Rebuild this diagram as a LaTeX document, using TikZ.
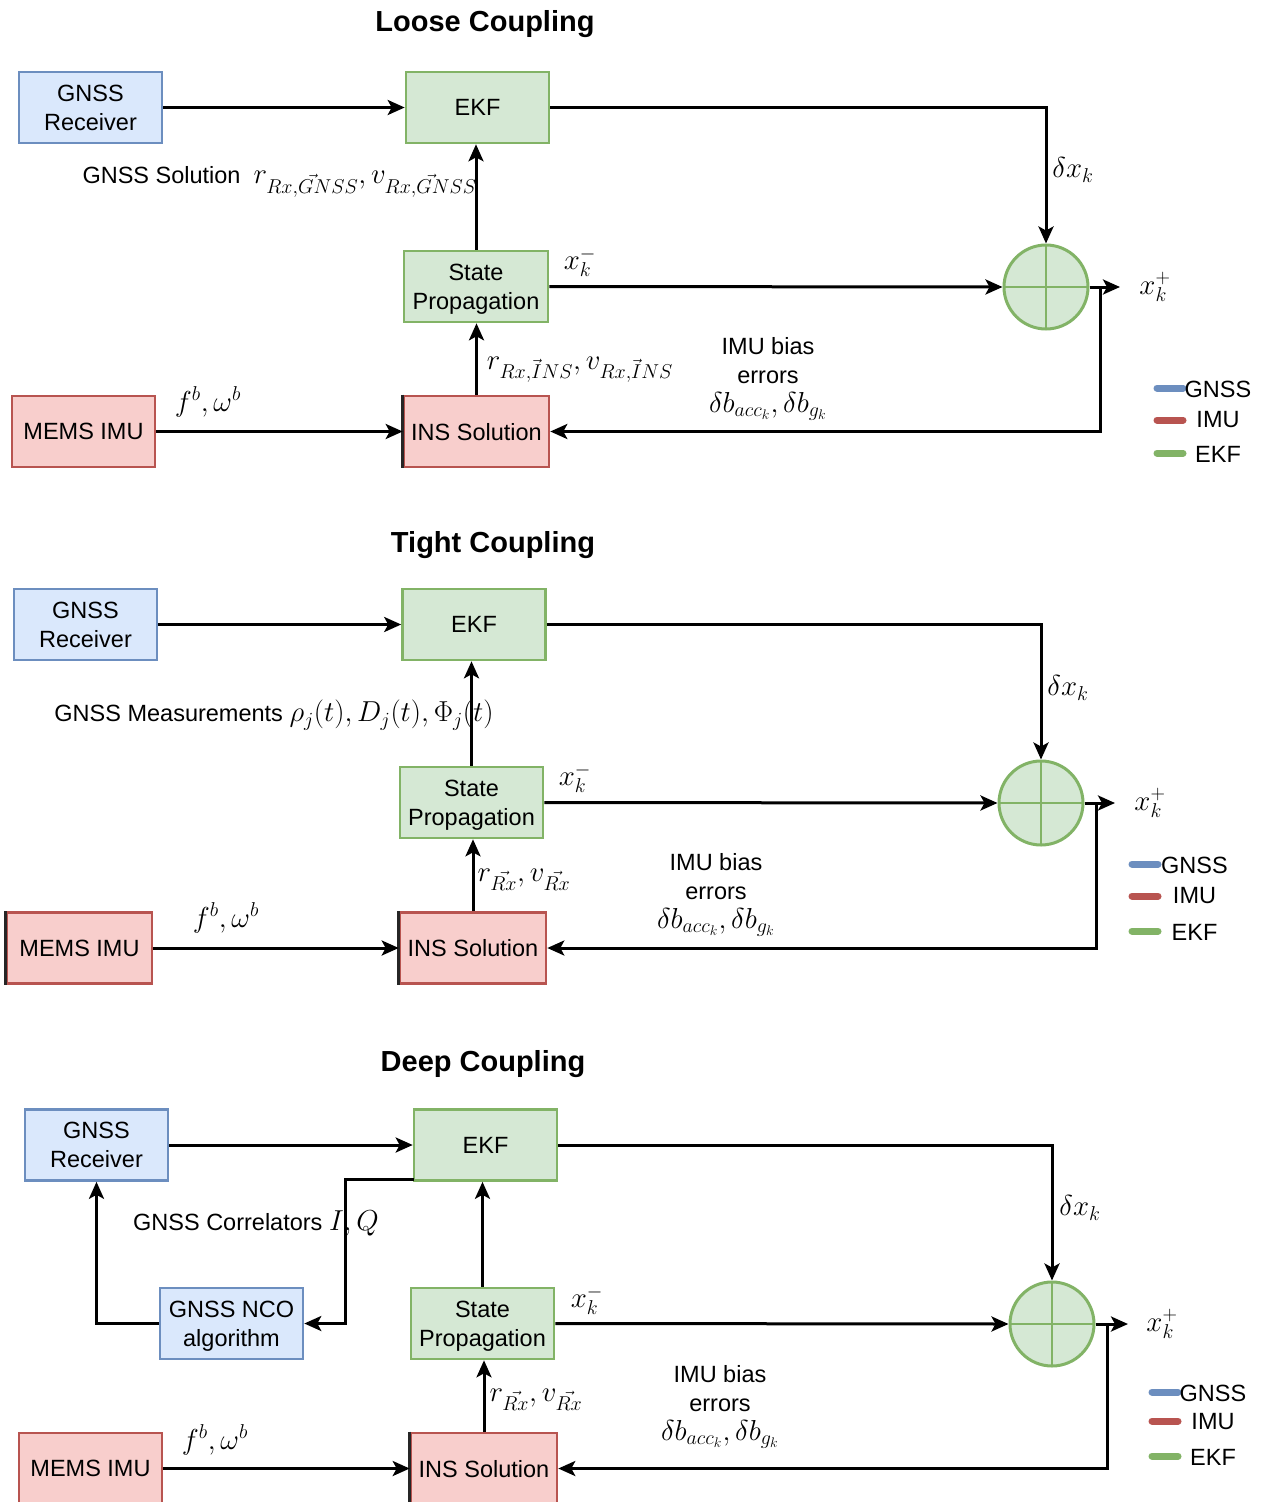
\documentclass[tikz,border=0pt]{standalone}
\usepackage{fontspec}
\setmainfont{Liberation Sans}
\usetikzlibrary{arrows.meta,calc}
\DeclareMathSizes{24.88}{24.88}{17.28}{12}

\definecolor{gnssF}{HTML}{DAE8FC}
\definecolor{gnssB}{HTML}{6C8EBF}
\definecolor{ekfF}{HTML}{D5E8D4}
\definecolor{ekfB}{HTML}{82B366}
\definecolor{imuF}{HTML}{F8CECC}
\definecolor{imuB}{HTML}{B85450}

\newcommand\boxfont{\fontsize{23.5}{29}\selectfont}
\newcommand\ttlfont{\fontsize{29}{34}\selectfont\bfseries}
\newcommand\mathfont{\fontsize{24.88}{30}\selectfont}
% enlarged math for the signal labels
\newcommand\mth[1]{{\mathfont\scalebox{1.16}{$#1$}}}

\tikzset{
  block/.style={draw, line width=2.6pt, minimum width=143pt, minimum height=71pt,
    align=center, font=\boxfont, inner sep=2pt, text depth=0pt},
  gnssbox/.style={block, draw=gnssB, fill=gnssF},
  ekfbox/.style={block, draw=ekfB, fill=ekfF},
  imubox/.style={block, draw=imuB, fill=imuF},
  sumnode/.style={circle, draw=ekfB, fill=ekfF, line width=3pt, minimum size=84pt, inner sep=0pt,
    path picture={\draw[ekfB, line width=2.6pt]
      (path picture bounding box.north) -- (path picture bounding box.south)
      (path picture bounding box.west) -- (path picture bounding box.east);}},
  conn/.style={line width=3pt, -{Stealth[length=17pt,width=15pt,inset=4pt]}},
  title/.style={font=\ttlfont},
  lbl/.style={font=\boxfont, inner sep=0pt},
  mlbl/.style={font=\mathfont, inner sep=0pt},
  legline/.style={line width=7pt, line cap=round},
  edge/.style={line width=3pt, black!85},
}

\begin{document}
\begin{tikzpicture}[x=1pt,y=-1pt]
\useasboundingbox[fill=white] (0,0) rectangle (1261,1502);

% ---------------- Loose coupling ----------------
\node[title] (t1) at (485,24) {Loose Coupling};
\node[gnssbox] (gnss1) at (90.5,107.5) {GNSS\\Receiver};
\node[ekfbox] (ekf1) at (477.5,107.5) {EKF};
\node[ekfbox, minimum width=144pt] (sp1) at (476,286.5) {State\\Propagation};
\node[imubox] (mems1) at (83.5,431.5) {MEMS IMU};
\node[imubox, minimum width=145pt] (ins1) at (476.5,431.5) {INS Solution};
\draw[edge] (ins1.north west) -- (ins1.south west);
\node[sumnode] (sum1) at (1046,287) {};
\coordinate (out1) at (1120,287);
\coordinate (fb1) at (1100,287);

\draw[conn] (gnss1) -- (ekf1);
\draw[conn] (ekf1.east) -| (sum1.north);
\draw[conn] (sp1.north) -- (sp1.north |- ekf1.south);
\draw[conn] (sp1.east) -- (sum1.west);
\draw[conn] (sum1.east) -- (out1);
\draw[conn] (fb1) |- (ins1.east);
\draw[conn] (mems1) -- (ins1);
\draw[conn] (ins1.north) -- (ins1.north |- sp1.south);

\node[lbl, anchor=east] (l1a) at (477,182) {GNSS Solution \ \mth{r_{\vec{Rx,GNSS}}, v_{\vec{Rx,GNSS}}}};
\node[mlbl] (l1b) at (580,262) {\mth{x_k^-}};
\node[mlbl] (l1c) at (1073,170) {\mth{\delta x_k}};
\node[mlbl] (l1d) at (1155,287) {\mth{x_k^+}};
\node[mlbl] (l1e) at (208,402) {\mth{f^b,\omega^b}};
\node[mlbl] (l1f) at (580,370) {\mth{r_{\vec{Rx,INS}}, v_{\vec{Rx,INS}}}};
\node[lbl, align=center] (l1g) at (768,379) {IMU bias\\errors\\\mth{\delta b_{acc_k},\delta b_{g_k}}};

\draw[legline, gnssB] (1157,388) -- (1183,388);
\draw[legline, imuB] (1157,420) -- (1183,420);
\draw[legline, ekfB] (1157,453) -- (1183,453);
\node[lbl] (lg1a) at (1218,389) {GNSS};
\node[lbl] (lg1b) at (1218,420) {IMU};
\node[lbl] (lg1c) at (1218,454) {EKF};

% ---------------- Tight coupling ----------------
\node[title] (t2) at (493,545) {Tight Coupling};
\node[gnssbox] (gnss2) at (85.5,624.5) {GNSS\\Receiver};
\node[ekfbox] (ekf2) at (474,624.5) {EKF};
\node[ekfbox] (sp2) at (471.5,802.5) {State\\Propagation};
\node[imubox, minimum width=145pt] (mems2) at (79.5,948) {MEMS IMU};
\node[imubox, minimum width=146pt] (ins2) at (473,948) {INS Solution};
\draw[edge] (mems2.north west) -- (mems2.south west);
\draw[edge] (ins2.north west) -- (ins2.south west);
\node[sumnode] (sum2) at (1041,803) {};
\coordinate (out2) at (1115,803);
\coordinate (fb2) at (1096,803);

\draw[conn] (gnss2) -- (ekf2);
\draw[conn] (ekf2.east) -| (sum2.north);
\draw[conn] (sp2.north) -- (sp2.north |- ekf2.south);
\draw[conn] (sp2.east) -- (sum2.west);
\draw[conn] (sum2.east) -- (out2);
\draw[conn] (fb2) |- (ins2.east);
\draw[conn] (mems2) -- (ins2);
\draw[conn] (ins2.north) -- (ins2.north |- sp2.south);

\node[lbl] (l2a) at (274,715) {GNSS Measurements \mth{\rho_j(t), D_j(t), \Phi_j(t)}};
\node[mlbl] (l2b) at (575,778) {\mth{x_k^-}};
\node[mlbl] (l2c) at (1068,688) {\mth{\delta x_k}};
\node[mlbl] (l2d) at (1150,803) {\mth{x_k^+}};
\node[mlbl] (l2e) at (226,918) {\mth{f^b,\omega^b}};
\node[mlbl] (l2f) at (524,880) {\mth{r_{\vec{Rx}}, v_{\vec{Rx}}}};
\node[lbl, align=center] (l2g) at (716,895) {IMU bias\\errors\\\mth{\delta b_{acc_k},\delta b_{g_k}}};

\draw[legline, gnssB] (1132,864) -- (1158,864);
\draw[legline, imuB] (1132,896) -- (1158,896);
\draw[legline, ekfB] (1132,931) -- (1158,931);
\node[lbl] (lg2a) at (1194.5,865) {GNSS};
\node[lbl] (lg2b) at (1194.5,896) {IMU};
\node[lbl] (lg2c) at (1194.5,932) {EKF};

% ---------------- Deep coupling ----------------
\node[title] (t3) at (483,1064) {Deep Coupling};
\node[gnssbox] (gnss3) at (96.5,1145) {GNSS\\Receiver};
\node[ekfbox] (ekf3) at (485.5,1145) {EKF};
\node[gnssbox] (nco3) at (231.5,1323.5) {GNSS NCO\\algorithm};
\node[ekfbox] (sp3) at (482.5,1323.5) {State\\Propagation};
\node[imubox] (mems3) at (90.5,1468.5) {MEMS IMU};
\node[imubox, minimum width=146pt] (ins3) at (484,1468.5) {INS Solution};
\draw[edge] (ins3.north west) -- (ins3.south west);
\node[sumnode] (sum3) at (1052,1324) {};
\coordinate (out3) at (1128,1324);
\coordinate (fb3) at (1107,1324);
\coordinate (corr3) at (414,1179);

\draw[conn] (gnss3) -- (ekf3);
\draw[conn] (ekf3.east) -| (sum3.north);
\draw[conn] (corr3) -- ++(-69,0) |- (nco3.east);
\draw[conn] (nco3.west) -| (gnss3.south);
\draw[conn] (sp3.north) -- (sp3.north |- ekf3.south);
\draw[conn] (sp3.east) -- (sum3.west);
\draw[conn] (sum3.east) -- (out3);
\draw[conn] (fb3) |- (ins3.east);
\draw[conn] (mems3) -- (ins3);
\draw[conn] (ins3.north) -- (ins3.north |- sp3.south);

\node[lbl] (l3a) at (256,1223) {GNSS Correlators \mth{I, Q}};
\node[mlbl] (l3b) at (587,1300) {\mth{x_k^-}};
\node[mlbl] (l3c) at (1080,1208) {\mth{\delta x_k}};
\node[mlbl] (l3d) at (1162,1324) {\mth{x_k^+}};
\node[mlbl] (l3e) at (215,1440) {\mth{f^b,\omega^b}};
\node[mlbl] (l3f) at (536,1400) {\mth{r_{\vec{Rx}}, v_{\vec{Rx}}}};
\node[lbl, align=center] (l3g) at (720,1407) {IMU bias\\errors\\\mth{\delta b_{acc_k},\delta b_{g_k}}};

\draw[legline, gnssB] (1152,1392) -- (1178,1392);
\draw[legline, imuB] (1152,1421) -- (1178,1421);
\draw[legline, ekfB] (1152,1456) -- (1178,1456);
\node[lbl] (lg3a) at (1213,1393) {GNSS};
\node[lbl] (lg3b) at (1213,1422) {IMU};
\node[lbl] (lg3c) at (1213,1457) {EKF};
\end{tikzpicture}
\end{document}
